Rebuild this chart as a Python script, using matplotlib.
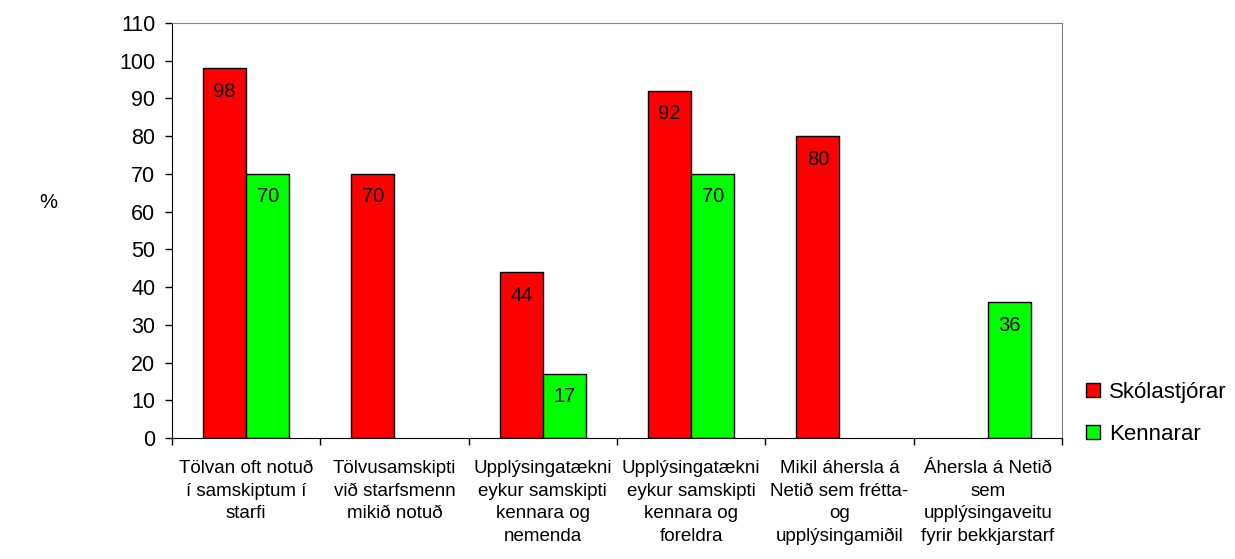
import matplotlib.pyplot as plt
import numpy as np

plt.rcParams['font.family'] = ['Liberation Sans', 'DejaVu Sans']

categories = ["Tölvan oft notuð\ní samskiptum í\nstarfi",
              "Tölvusamskipti\nvið starfsmenn\nmikið notuð",
              "Upplýsingatækni\neykur samskipti\nkennara og\nnemenda",
              "Upplýsingatækni\neykur samskipti\nkennara og\nforeldra",
              "Mikil áhersla á\nNetið sem frétta-\nog\nupplýsingamiðil",
              "Áhersla á Netið\nsem\nupplýsingaveitu\nfyrir bekkjarstarf"]
skolastjorar = [98, 70, 44, 92, 80, np.nan]
kennarar = [70, np.nan, 17, 70, np.nan, 36]

fig = plt.figure(figsize=(12.35, 5.59), dpi=100)
ax = fig.add_axes([172/1235, 1 - 438/559, (1062-172)/1235, (438-23)/559])

x = np.arange(len(categories))
w = 0.29
b1 = ax.bar(x - w/2, skolastjorar, w, color='#ff0000', edgecolor='black', linewidth=1, label='Skólastjórar')
b2 = ax.bar(x + w/2, kennarar, w, color='#00ff00', edgecolor='black', linewidth=1, label='Kennarar')

for bars, vals in ((b1, skolastjorar), (b2, kennarar)):
    for rect, v in zip(bars, vals):
        if np.isnan(v):
            continue
        ax.text(rect.get_x() + rect.get_width()/2, v - 3.6, str(int(v)),
                ha='center', va='top', fontsize=14.5)

ax.set_xlim(-0.5, len(categories) - 0.5)
ax.set_ylim(0, 110)
ax.set_yticks(range(0, 111, 10))
ax.tick_params(axis='y', labelsize=15.5, direction='out', length=5, width=1, pad=7)
ax.set_xticks(np.arange(-0.5, len(categories), 1))
ax.set_xticklabels([])
ax.set_xticks(x, minor=True)
ax.set_xticklabels(categories, minor=True, fontsize=13.5, linespacing=1.42, va='top')
ax.tick_params(axis='x', which='minor', length=0, pad=16)
ax.tick_params(axis='x', which='major', direction='out', length=5, width=1)

for s in ('top', 'right'):
    ax.spines[s].set_color('#808080')
for s in ('left', 'bottom'):
    ax.spines[s].set_color('black')

fig.text(48/1235, 1 - 203/559, '%', fontsize=14.5, ha='center', va='center')

ax.legend(loc='upper left', bbox_to_anchor=(1.005, 0.183), frameon=False,
          fontsize=16, handlelength=0.6, handleheight=0.6, handletextpad=0.4,
          labelspacing=0.95)

fig.savefig('out.png', dpi=100)
